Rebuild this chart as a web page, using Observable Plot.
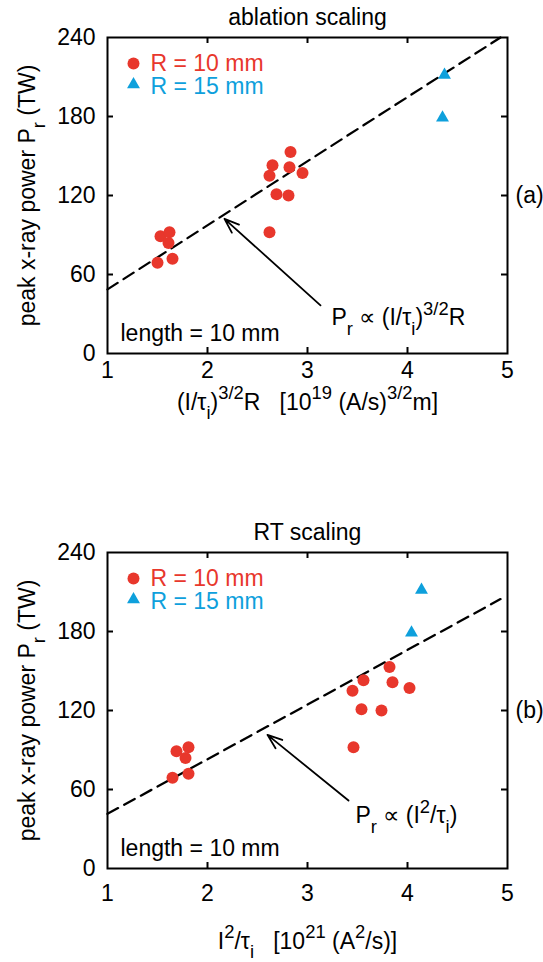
<!DOCTYPE html>
<html><head><meta charset="utf-8">
<script src="https://cdn.jsdelivr.net/npm/d3@7"></script>
<script src="https://cdn.jsdelivr.net/npm/@observablehq/plot@0.6"></script>
<style>
body{margin:0;background:#fff;}
#chart svg{display:block;}
</style></head><body><div id="chart"></div>
<script>
// ---- data ----
const xTicks = [1, 2, 3, 4, 5];
const yTicks = [0, 60, 120, 180, 240];
const innerXTicks = [2, 3, 4];
const innerYTicks = [60, 120, 180];
const xDomain = [1, 5];
const yDomain = [0, 240];

// peak x-ray power (TW), same shots in both panels
const powerR10 = [89, 92, 84, 69, 72, 143, 153, 141.5, 135, 137, 121, 120, 92];
const powerR15 = [211.5, 179];
// ablation scaling abscissa (I/tau_i)^{3/2} R
const ablationR10 = [1.53, 1.62, 1.61, 1.50, 1.65, 2.65, 2.83, 2.82, 2.62, 2.95, 2.69, 2.81, 2.62];
const ablationR15 = [4.37, 4.35];
// RT scaling abscissa I^2/tau_i
const rtR10 = [1.69, 1.81, 1.78, 1.65, 1.81, 3.56, 3.82, 3.85, 3.45, 4.02, 3.54, 3.74, 3.46];
const rtR15 = [4.14, 4.04];

// dashed proportional fits (endpoints)
const ablationFitX = [1, 4.93];
const ablationFitY = [48.7, 240];
const rtFitX = [1, 4.93];
const rtFitY = [41.5, 204.6];

// arrows [x1, y1, x2, y2] and annotation anchors [x, y]
const ablationArrow = [3.13, 36.6, 2.17, 102.3];
const rtArrow = [3.41, 51.6, 2.60, 101.5];
const ablationNotePos = [3.24, 21.5];
const rtNotePos = [3.48, 34.4];

const legendLabels = ["R = 10 mm", "R = 15 mm"];
const red = "#e8372c";
const blue = "#0ea0dc";
const FS = 23;
const FONT = "'Liberation Sans', Arial, Helvetica, sans-serif";

function panel(cfg) {
  const W = 543, mL = 107, mR = 36, mT = 37;
  const frameW = W - mL - mR, frameH = cfg.height - mT - cfg.marginBottom;
  const r10 = cfg.xR10.map((x, i) => ({x, y: powerR10[i]}));
  const r15 = cfg.xR15.map((x, i) => ({x, y: powerR15[i]}));
  const fit = cfg.fitX.map((x, i) => ({x, y: cfg.fitY[i]}));
  const arr = [{x1: cfg.arrow[0], y1: cfg.arrow[1], x2: cfg.arrow[2], y2: cfg.arrow[3]}];
  const corner = [{x: xDomain[0], y: yDomain[1]}];
  return Plot.plot({
    width: W, height: cfg.height,
    marginLeft: mL, marginRight: mR, marginTop: mT, marginBottom: cfg.marginBottom,
    style: {fontFamily: FONT, fontSize: FS + "px", background: "white", color: "black", overflow: "visible"},
    x: {domain: xDomain, label: null},
    y: {domain: yDomain, label: null},
    marks: [
      Plot.axisX({ticks: xTicks, tickSize: 0, tickPadding: cfg.xTickPad, tickFormat: d => d, label: null, fontSize: FS}),
      Plot.axisY({ticks: yTicks, tickSize: 0, tickPadding: 12, tickFormat: d => d, label: null, fontSize: FS}),
      Plot.tickX(innerXTicks, {x: d => d, insetTop: frameH - 6, stroke: "black", strokeWidth: 2}),
      Plot.tickX(innerXTicks, {x: d => d, insetBottom: frameH - 6, stroke: "black", strokeWidth: 2}),
      Plot.tickY(innerYTicks, {y: d => d, insetRight: frameW - 6, stroke: "black", strokeWidth: 2}),
      Plot.tickY(innerYTicks, {y: d => d, insetLeft: frameW - 6, stroke: "black", strokeWidth: 2}),
      Plot.line(fit, {x: "x", y: "y", stroke: "black", strokeWidth: 2.3, strokeDasharray: "12,7"}),
      Plot.arrow(arr, {x1: "x1", y1: "y1", x2: "x2", y2: "y2", stroke: "black", strokeWidth: 1.8, headLength: 13, headAngle: 40}),
      Plot.dot(r10, {x: "x", y: "y", r: 6, fill: red}),
      Plot.dot(r15, {x: "x", y: "y", r: 4.8, symbol: "triangle", fill: blue}),
      // legend
      Plot.dot(corner, {x: "x", y: "y", dx: 26, dy: 26, r: 6, fill: red}),
      Plot.dot(corner, {x: "x", y: "y", dx: 26, dy: 47, r: 4.8, symbol: "triangle", fill: blue}),
      Plot.text(corner, {x: "x", y: "y", dx: 43, dy: 26, text: () => legendLabels[0], fill: red, textAnchor: "start", fontSize: FS}),
      Plot.text(corner, {x: "x", y: "y", dx: 43, dy: 49.5, text: () => legendLabels[1], fill: blue, textAnchor: "start", fontSize: FS}),
      // annotations
      Plot.text([cfg.notePos], {x: d => d[0], y: d => d[1], text: () => cfg.note, textAnchor: "start", lineAnchor: "bottom", fontSize: FS}),
      Plot.text(["length = 10 mm"], {frameAnchor: "bottom-left", dx: 13, dy: -13, text: d => d, textAnchor: "start", lineAnchor: "bottom", fontSize: FS}),
      // titles and labels
      Plot.text([cfg.title], {frameAnchor: "top", dy: -13, text: d => d, textAnchor: "middle", lineAnchor: "bottom", fontSize: FS}),
      Plot.text([cfg.xLabel], {frameAnchor: "bottom", dy: cfg.xLabelDy, text: d => d, textAnchor: "middle", lineAnchor: "bottom", fontSize: FS}),
      Plot.text(["peak x-ray power P_{r} (TW)"], {frameAnchor: "left", dx: -80, rotate: -90, text: d => d, textAnchor: "middle", lineAnchor: "middle", fontSize: FS}),
      Plot.text([cfg.tag], {frameAnchor: "right", dx: 8, text: d => d, textAnchor: "start", fontSize: FS}),
      Plot.frame({stroke: "black", strokeWidth: 2})
    ]
  });
}

function richify(svg, fs) {
  d3.select(svg).selectAll("text").each(function () {
    const s = this.textContent;
    if (!/[_^]\{/.test(s)) return;
    const parts = [];
    const re = /([_^])\{([^}]*)\}/g;
    let last = 0, m;
    while ((m = re.exec(s))) {
      if (m.index > last) parts.push({t: s.slice(last, m.index), k: 0});
      parts.push({t: m[2], k: m[1] === "_" ? 1 : -1});
      last = re.lastIndex;
    }
    if (last < s.length) parts.push({t: s.slice(last), k: 0});
    this.textContent = "";
    let cur = 0;
    for (const p of parts) {
      const off = p.k === 1 ? 0.42 * fs : p.k === -1 ? -0.45 * fs : 0;
      const ts = d3.select(this).append("tspan").text(p.t);
      if (off - cur !== 0) ts.attr("dy", off - cur);
      if (p.k) ts.attr("font-size", fs * 0.8);
      cur = off;
    }
    this.style.whiteSpace = "pre";
  });
}

const panelA = panel({
  height: 515, marginBottom: 162, xTickPad: 8, xLabelDy: 56,
  xR10: ablationR10, xR15: ablationR15, fitX: ablationFitX, fitY: ablationFitY,
  arrow: ablationArrow, notePos: ablationNotePos,
  note: "P_{r} ∝ (I/τ_{i})^{3/2}R",
  title: "ablation scaling",
  xLabel: "(I/τ_{i})^{3/2}R   [10^{19} (A/s)^{3/2}m]",
  tag: "(a)"
});
const panelB = panel({
  height: 447, marginBottom: 94, xTickPad: 16, xLabelDy: 80,
  xR10: rtR10, xR15: rtR15, fitX: rtFitX, fitY: rtFitY,
  arrow: rtArrow, notePos: rtNotePos,
  note: "P_{r} ∝ (I^{2}/τ_{i})",
  title: "RT scaling",
  xLabel: "I^{2}/τ_{i}   [10^{21} (A^{2}/s)]",
  tag: "(b)"
});
const host = document.getElementById("chart");
host.append(panelA, panelB);
richify(panelA, FS);
richify(panelB, FS);
</script>
</body></html>
